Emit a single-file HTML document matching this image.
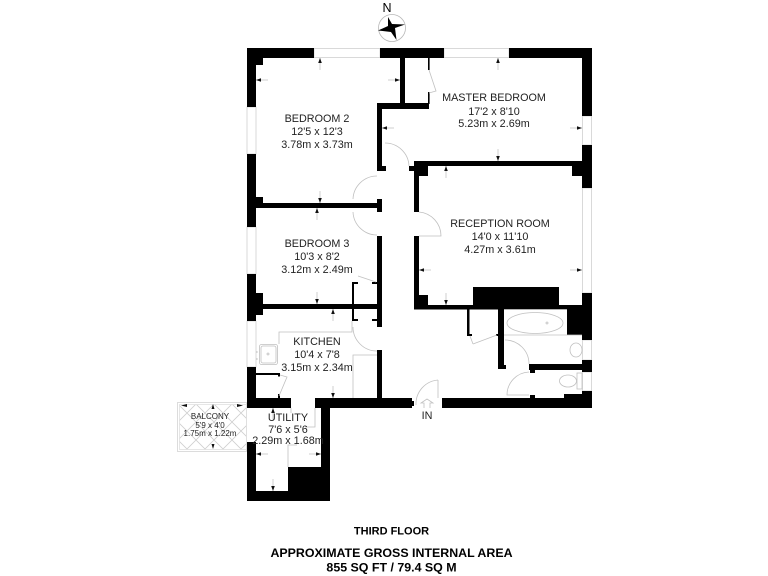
<!DOCTYPE html>
<html><head><meta charset="utf-8"><title>Third Floor Plan</title>
<style>html,body{margin:0;padding:0;background:#fff}svg{display:block;filter:blur(.35px)}
text{font-family:"Liberation Sans",sans-serif;fill:#222;text-anchor:middle;font-size:10.8px}
.f{font-weight:bold;fill:#000}
</style></head><body>
<svg width="768" height="576" viewBox="0 0 768 576" xmlns="http://www.w3.org/2000/svg">
<defs>
<pattern id="lat" width="18" height="18" patternUnits="userSpaceOnUse" x="178" y="404">
<path d="M0 0L18 18M18 0L0 18" stroke="#cfcfcf" stroke-width="0.8" fill="none"/>
</pattern>
<g id="au"><path d="M0 0V12" stroke="#bbb" stroke-width="0.7"/><path d="M0 0L-1.8 5H1.8Z" fill="#111"/></g>
<g id="ad"><path d="M0 0V-12" stroke="#bbb" stroke-width="0.7"/><path d="M0 0L-1.8 -5H1.8Z" fill="#111"/></g>
<g id="al"><path d="M0 0H12" stroke="#bbb" stroke-width="0.7"/><path d="M0 0L5 -1.8V1.8Z" fill="#111"/></g>
<g id="ar"><path d="M0 0H-12" stroke="#bbb" stroke-width="0.7"/><path d="M0 0L-5 -1.8V1.8Z" fill="#111"/></g>
</defs>

<!-- balcony -->
<rect x="177.500" y="402.500" width="69" height="49" fill="#fff" stroke="#dcdcdc"/>
<rect x="179.500" y="404.500" width="67" height="45" fill="url(#lat)" stroke="#e0e0e0" stroke-width="0.8"/>

<!-- windows -->
<g fill="#fff" stroke="#d0d0d0" stroke-width="0.8">
<rect x="314" y="48.500" width="66" height="9"/>
<rect x="444" y="48.500" width="65" height="9"/>
<rect x="247" y="107" width="9" height="47"/>
<rect x="247" y="227" width="9" height="47"/>
<rect x="247" y="321" width="9" height="46"/>
<rect x="582.500" y="116" width="9" height="29"/>
<rect x="582.500" y="188" width="9" height="105"/>
<rect x="582.500" y="340" width="9" height="20"/>
<rect x="582.500" y="372" width="9" height="19"/>
</g>

<!-- solid walls -->
<g fill="#000">
<rect x="247" y="48" width="67" height="10"/>
<rect x="380" y="48" width="64" height="10"/>
<rect x="509" y="48" width="83" height="10"/>
<rect x="247" y="48" width="9" height="59"/>
<rect x="256" y="58" width="7" height="7"/>
<rect x="247" y="154" width="9" height="73"/>
<rect x="256" y="197" width="7" height="11"/>
<rect x="247" y="274" width="9" height="47"/>
<rect x="256" y="293" width="7" height="22"/>
<rect x="247" y="367" width="9" height="41"/>
<rect x="247" y="442" width="9" height="59"/>
<rect x="247" y="491" width="83" height="10"/>
<rect x="321" y="403" width="9" height="98"/>
<rect x="288" y="467" width="33" height="24"/>
<rect x="256" y="398" width="35" height="10"/>
<rect x="315" y="398" width="97" height="10"/>
<rect x="442" y="398" width="150" height="10"/>
<rect x="412" y="401" width="2" height="5"/>
<!-- right wall -->
<rect x="582" y="48" width="10" height="68"/>
<rect x="582" y="145" width="10" height="43"/>
<rect x="582" y="293" width="10" height="47"/>
<rect x="582" y="360" width="10" height="12"/>
<rect x="582" y="391" width="10" height="17"/>
<rect x="564" y="394" width="19" height="4"/>
<!-- closet -->
<rect x="400" y="58" width="5" height="46"/>
<rect x="377" y="103" width="52" height="6"/>
<rect x="428" y="58" width="1.600" height="12"/>
<rect x="428" y="92" width="1.600" height="12"/>
<!-- inner wall left of corridor -->
<rect x="377" y="103" width="5" height="68"/>
<rect x="382" y="166" width="4" height="5"/>
<rect x="256" y="203" width="126" height="5"/>
<rect x="377" y="199" width="5" height="13"/>
<rect x="377" y="236" width="5" height="91"/>
<rect x="256" y="304" width="126" height="5"/>
<!-- cupboards -->
<rect x="352" y="282" width="2" height="39"/>
<rect x="352" y="282" width="6" height="2"/>
<rect x="372" y="282" width="5" height="2"/>
<rect x="352" y="319" width="6" height="2"/>
<rect x="372" y="319" width="5" height="2"/>
<!-- reception -->
<rect x="414" y="161" width="168" height="5"/>
<rect x="409" y="166" width="5" height="5"/>
<rect x="414" y="161" width="5" height="51"/>
<rect x="414" y="166" width="14" height="10"/>
<rect x="572" y="166" width="10" height="10"/>
<rect x="414" y="236" width="5" height="73"/>
<rect x="414" y="295" width="14" height="14"/>
<rect x="414" y="305" width="160" height="4.500"/>
<rect x="473" y="287" width="86" height="18"/>
<rect x="567" y="305" width="25" height="30"/>
<!-- bath / wc -->
<rect x="467" y="309" width="2.500" height="26"/>
<rect x="467" y="334" width="5" height="2"/>
<rect x="498" y="309" width="6" height="60"/>
<rect x="504" y="365" width="2" height="4"/>
<rect x="529" y="364" width="54" height="6"/>
<rect x="530" y="370" width="5" height="3"/>
<rect x="530" y="395" width="5" height="3"/>
<rect x="496" y="334" width="2" height="2"/>
<!-- kitchen wall -->
<rect x="377" y="350" width="5" height="48"/>
<!-- utility cupboard -->
<rect x="256" y="373" width="23" height="2"/>
<rect x="278" y="373" width="2" height="3.500"/>
<rect x="278" y="394" width="2" height="4"/>
</g>

<!-- thin lines, doors, fittings -->
<g fill="none" stroke="#c0c0c0" stroke-width="0.8">
<path d="M385 143A24 24 0 0 1 409 166"/>
<path d="M353 199A24 24 0 0 1 377 176"/>
<path d="M353 212A24 24 0 0 0 377 235"/>
<path d="M353 327A24 24 0 0 0 377 351"/>
<path d="M419 212A24 24 0 0 1 441 236H419"/>
<path d="M429 70L436 91L429 93"/>
<path d="M358 276L376 282"/>
<path d="M279 344V332H352V321"/>
<path d="M353 398V355H377"/>
<path d="M279 396L287 377L280 375"/>
<path d="M291 408V413"/>
<path d="M315 408V427H305"/>
<path d="M288 467V445H297"/>
<rect x="259.500" y="344.500" width="18" height="20" rx="2"/>
<rect x="261" y="346" width="15" height="17" rx="2"/>
<path d="M257 351v2M257 358v2"/>
<circle cx="268" cy="354" r="1"/>
<path d="M473 344L497 335"/>
<path d="M470 336L473 344"/>
<path d="M504 335H582"/>
<path d="M504 309.500H567"/>
<ellipse cx="535" cy="323" rx="28" ry="10.500"/>
<circle cx="547" cy="323" r="1"/>
<path d="M505 340A24 24 0 0 1 529 364"/>
<path d="M529 372A23 23 0 0 0 507 395H529"/>
<ellipse cx="576" cy="350" rx="6" ry="7"/>
<ellipse cx="568" cy="381" rx="8.500" ry="6"/>
<rect x="577" y="373" width="5" height="16"/>
<path d="M438 380A24 24 0 0 0 416 405"/>
<path d="M438 380V398"/>
<path d="M424 408V403H421L427 399L433 403H430V408"/>
</g>

<!-- dimension arrows -->
<use href="#au" x="320" y="58"/>
<use href="#al" x="256" y="80"/>
<use href="#ar" x="400" y="80"/>
<use href="#al" x="382" y="128"/>
<use href="#ad" x="320" y="203"/>
<use href="#au" x="317" y="208"/>
<use href="#ad" x="317" y="304"/>
<use href="#au" x="333" y="309"/>
<use href="#ad" x="333" y="398"/>
<use href="#au" x="273" y="408"/>
<use href="#ad" x="273" y="491"/>
<use href="#al" x="256" y="454"/>
<use href="#ar" x="321" y="454"/>
<use href="#au" x="498" y="58"/>
<use href="#ad" x="498" y="161"/>
<use href="#ar" x="582" y="128"/>
<use href="#au" x="446" y="166"/>
<use href="#ad" x="446" y="305"/>
<use href="#al" x="419" y="270"/>
<use href="#ar" x="582" y="270"/>
<path d="M181 405.500L187 404V407Z M243 405.500L237 404V407Z M213 404L211.500 409H214.500Z M213 449L211.500 444H214.500Z" fill="#111"/>

<!-- compass -->
<circle cx="392" cy="28" r="13.500" fill="#fff" stroke="#b8b8b8" stroke-width="0.8"/>
<path d="M388 17L392 24L405 24.500L395 28L396.500 40L391 32L378 30.500L388 26Z" fill="#000"/>
<text x="387" y="12" style="font-size:12.500px;fill:#000">N</text>

<!-- labels -->
<text x="317" y="122">BEDROOM 2</text><text x="317" y="135">12'5 x 12'3</text><text x="317" y="148">3.78m x 3.73m</text>
<text x="494" y="101">MASTER BEDROOM</text><text x="494" y="115">17'2 x 8'10</text><text x="494" y="127">5.23m x 2.69m</text>
<text x="317" y="247">BEDROOM 3</text><text x="317" y="260">10'3 x 8'2</text><text x="317" y="273">3.12m x 2.49m</text>
<text x="500" y="227">RECEPTION ROOM</text><text x="500" y="240">14'0 x 11'10</text><text x="500" y="253">4.27m x 3.61m</text>
<text x="317" y="345">KITCHEN</text><text x="317" y="358">10'4 x 7'8</text><text x="317" y="371">3.15m x 2.34m</text>
<text x="288" y="421">UTILITY</text><text x="288" y="433">7'6 x 5'6</text><text x="288" y="444">2.29m x 1.68m</text>
<text x="210" y="419" style="font-size:8px">BALCONY</text><text x="210" y="428" style="font-size:8px">5'9 x 4'0</text><text x="210" y="436" style="font-size:8px">1.75m x 1.22m</text>
<text x="427" y="419">IN</text>
<text class="f" x="391.500" y="534.500" style="font-size:11px">THIRD FLOOR</text>
<text class="f" x="391.500" y="557" style="font-size:12.400px">APPROXIMATE GROSS INTERNAL AREA</text>
<text class="f" x="391.500" y="571.500" style="font-size:12.400px">855 SQ FT / 79.4 SQ M</text>
</svg>
</body></html>
